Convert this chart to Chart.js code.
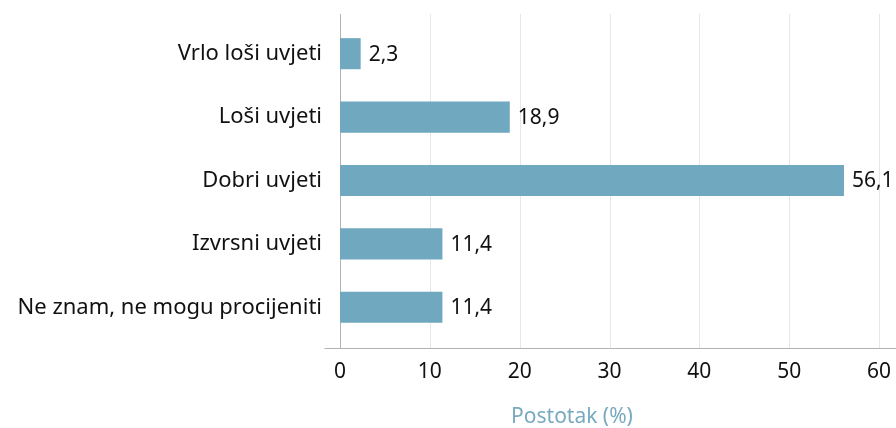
<!DOCTYPE html>
<html>
<head>
<meta charset="utf-8">
<script src="https://cdn.jsdelivr.net/npm/chart.js@4.4.1/dist/chart.umd.min.js"></script>
<style>
  html, body { margin: 0; padding: 0; background: #fff; }
  #wrap { width: 896px; height: 428px; position: relative; }
</style>
</head>
<body>
<div id="wrap"><canvas id="chart"></canvas></div>
<script>
        const categories = ['Vrlo loši uvjeti', 'Loši uvjeti', 'Dobri uvjeti', 'Izvrsni uvjeti', 'Ne znam, ne mogu procijeniti'];
        const values = [2.3, 18.9, 56.1, 11.4, 11.4];
        const xTicks = [0, 10, 20, 30, 40, 50, 60];
        const axisTitle = 'Postotak (%)';

        const FONT = '"Noto Sans", sans-serif';
        const FONT_SIZE = 22;
        const TEXT = '#111111';
        const BAR = '#6fa8bf';

        // grid, osi, vrijednosti i naslov osi
        const decorPlugin = {
            id: 'decor',
            beforeDatasetsDraw(chart) {
                const { ctx, chartArea, scales } = chart;
                const top = chartArea.top - 8;
                const bottom = chartArea.bottom + 9;
                ctx.save();
                ctx.lineWidth = 1;
                ctx.strokeStyle = '#e6e6e6';
                xTicks.forEach(t => {
                    if (t === 0) return;
                    const x = Math.round(scales.x.getPixelForValue(t)) + 0.5;
                    ctx.beginPath();
                    ctx.moveTo(x, top);
                    ctx.lineTo(x, bottom);
                    ctx.stroke();
                });
                ctx.strokeStyle = '#b3b3b3';
                const x0 = Math.round(scales.x.getPixelForValue(0)) + 0.5;
                ctx.beginPath();
                ctx.moveTo(x0, top);
                ctx.lineTo(x0, bottom);
                ctx.stroke();
                const yb = Math.round(bottom) + 0.5;
                ctx.beginPath();
                ctx.moveTo(x0 - 16, yb);
                ctx.lineTo(chart.width, yb);
                ctx.stroke();
                ctx.restore();
            },
            afterDatasetsDraw(chart) {
                const { ctx } = chart;
                const meta = chart.getDatasetMeta(0);
                ctx.save();
                ctx.font = '21px ' + FONT;
                ctx.fillStyle = TEXT;
                ctx.textAlign = 'left';
                ctx.textBaseline = 'middle';
                meta.data.forEach((bar, i) => {
                    ctx.fillText(values[i].toFixed(1).replace('.', ','), bar.x + 8, bar.y + 1);
                });
                ctx.fillStyle = '#78aabf';
                ctx.textAlign = 'center';
                ctx.fillText(axisTitle, 572, 417);
                ctx.restore();
            }
        };

        const ctx = document.getElementById('chart').getContext('2d');
        new Chart(ctx, {
            type: 'bar',
            data: {
                labels: categories,
                datasets: [{
                    data: values,
                    backgroundColor: BAR,
                    borderWidth: 0,
                    barPercentage: 0.98,
                    categoryPercentage: 0.5
                }]
            },
            options: {
                indexAxis: 'y',
                responsive: true,
                maintainAspectRatio: false,
                animation: false,
                layout: { padding: { top: 22, right: 17, left: 0, bottom: 0 } },
                plugins: {
                    legend: { display: false },
                    tooltip: { enabled: false }
                },
                scales: {
                    x: {
                        min: 0,
                        max: 60,
                        afterBuildTicks(scale) {
                            scale.ticks = xTicks.map(v => ({ value: v }));
                        },
                        afterFit(scale) {
                            scale.height = 89;
                            scale.paddingLeft = 0;
                            scale.paddingRight = 0;
                        },
                        grid: { display: false, drawTicks: false },
                        border: { display: false },
                        ticks: {
                            color: TEXT,
                            padding: 20,
                            font: { family: FONT, size: 21 },
                            maxRotation: 0
                        }
                    },
                    y: {
                        afterFit(scale) {
                            scale.width = 340;
                            scale.paddingTop = 0;
                            scale.paddingBottom = 0;
                        },
                        grid: { display: false, drawTicks: false },
                        border: { display: false },
                        ticks: {
                            color: TEXT,
                            padding: 18,
                            font: { family: FONT, size: FONT_SIZE }
                        }
                    }
                }
            },
            plugins: [decorPlugin]
        });
</script>
</body>
</html>
